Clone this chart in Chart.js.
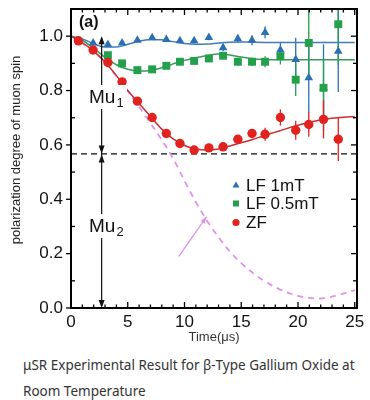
<!DOCTYPE html>
<html>
<head>
<meta charset="utf-8">
<script src="https://cdn.jsdelivr.net/npm/chart.js@4"></script>
<style>
  html, body { margin: 0; padding: 0; background: #fff; }
  #wrap { position: relative; width: 370px; height: 345px; }
  .cap { position: absolute; left: 23px; font-family: "Noto Sans", sans-serif; font-size: 13.5px; color: #333; white-space: nowrap; }
</style>
</head>
<body>
<div id="wrap"><canvas id="chart"></canvas></div>
<div class="cap" style="top:356px">μSR Experimental Result for β-Type Gallium Oxide at</div>
<div class="cap" style="top:382px">Room Temperature</div>
<script>
// measurement times (µs)
const TIMES = [0.65, 1.95, 3.25, 4.5, 5.85, 7.15, 8.4, 9.6, 10.85, 12.15, 13.4, 14.7, 15.95, 17.1, 18.45, 19.8, 20.95, 22.25, 23.55];

const ZF_VALUES = [0.983, 0.949, 0.903, 0.832, 0.761, 0.701, 0.642, 0.605, 0.581, 0.589, 0.593, 0.621, 0.642, 0.639, 0.701, 0.654, 0.675, 0.694, 0.621];
const ZF_ERR    = [0.006, 0.006, 0.006, 0.007, 0.007, 0.008, 0.008, 0.009, 0.01, 0.01, 0.012, 0.014, 0.016, 0.024, 0.03, 0.035, 0.045, 0.07, 0.08];

const LF1_VALUES = [null, 0.975, 0.969, 0.975, 0.985, 0.994, 0.988, 0.983, 0.983, 0.995, 0.957, 0.991, 0.985, 1.014, 0.949, 0.914, 0.847, 0.81, 0.945];
const LF1_ERR    = [0, 0.006, 0.006, 0.006, 0.007, 0.007, 0.008, 0.008, 0.009, 0.01, 0.012, 0.014, 0.018, 0.022, 0.03, 0.08, 0.13, 0.16, 0.15];

const LF05_VALUES = [null, null, 0.930, 0.900, 0.875, 0.878, 0.891, 0.906, 0.909, 0.918, 0.928, 0.906, 0.906, 0.906, 0.926, 0.84, 0.975, 0.81, 1.044];
const LF05_ERR    = [0, 0, 0.006, 0.006, 0.007, 0.007, 0.008, 0.008, 0.009, 0.01, 0.012, 0.015, 0.016, 0.02, 0.03, 0.06, 0.13, 0.11, 0.15];

const FIT_TIMES = [0, 1, 2, 3, 4, 5, 6, 7, 8, 9, 10, 11, 12, 13, 14, 15, 16, 17, 18, 19, 20, 21, 22, 23, 24, 25];
const LF1_FIT  = [1.0, 0.99, 0.972, 0.96, 0.96, 0.97, 0.982, 0.988, 0.987, 0.98, 0.973, 0.97, 0.971, 0.975, 0.978, 0.979, 0.978, 0.977, 0.977, 0.977, 0.977, 0.977, 0.977, 0.977, 0.977, 0.977];
const LF05_FIT = [1.0, 0.985, 0.955, 0.922, 0.895, 0.878, 0.872, 0.874, 0.884, 0.898, 0.911, 0.921, 0.929, 0.934, 0.931, 0.923, 0.917, 0.914, 0.913, 0.913, 0.913, 0.913, 0.913, 0.913, 0.913, 0.913];
const ZF_FIT   = [1.0, 0.975, 0.945, 0.905, 0.855, 0.8, 0.752, 0.705, 0.658, 0.622, 0.598, 0.585, 0.581, 0.585, 0.596, 0.608, 0.62, 0.634, 0.647, 0.66, 0.672, 0.683, 0.692, 0.698, 0.702, 0.704];
const KT_CURVE = [1.0, 0.975, 0.945, 0.903, 0.853, 0.798, 0.74, 0.68, 0.618, 0.55, 0.468, 0.39, 0.32, 0.26, 0.208, 0.165, 0.13, 0.1, 0.077, 0.058, 0.045, 0.037, 0.035, 0.042, 0.053, 0.066];

const X_TICKS = [0, 5, 10, 15, 20, 25];
const Y_TICKS = [0, 0.2, 0.4, 0.6, 0.8, 1.0];

// Mu1 / Mu2 markers
const MU_TIME = 2.7;
const MU_LEVEL = 0.567;
const PINK_ARROW = [{ x: 9.5, y: 0.19 }, { x: 11.95, y: 0.336 }];

const BLUE = '#2b70b4', GREEN = '#22a04b', RED = '#e0231f', PINK = '#e48ff0';
const FONT = '"Liberation Sans", Arial, sans-serif';

const SERIES = [
  { label: 'LF 1mT', values: LF1_VALUES, errors: LF1_ERR, color: BLUE, style: 'triangle' },
  { label: 'LF 0.5mT', values: LF05_VALUES, errors: LF05_ERR, color: GREEN, style: 'rect' },
  { label: 'ZF', values: ZF_VALUES, errors: ZF_ERR, color: RED, style: 'circle' }
];

function pts(times, vals) {
  return times.map((t, i) => ({ x: t, y: vals[i] })).filter(p => p.y != null);
}

function head(ctx, x, y, angle, len, w) {
  ctx.save();
  ctx.translate(x, y);
  ctx.rotate(angle);
  ctx.beginPath();
  ctx.moveTo(0, 0);
  ctx.lineTo(-len, -w / 2);
  ctx.lineTo(-len, w / 2);
  ctx.closePath();
  ctx.fill();
  ctx.restore();
}

function muLabel(ctx, x, yCenter, sub) {
  ctx.fillStyle = '#fff';
  ctx.fillRect(x - 2, yCenter - 11, 40, 24);
  ctx.fillStyle = '#111';
  ctx.textBaseline = 'alphabetic';
  ctx.textAlign = 'left';
  ctx.font = '19px ' + FONT;
  ctx.fillText('Mu', x, yCenter + 7);
  const w = ctx.measureText('Mu').width;
  ctx.font = '13px ' + FONT;
  ctx.fillText(sub, x + w + 1, yCenter + 11);
}

// draws one straight segment as a thin filled box (avoids any stroke state issues)
function bar(ctx, x0, y0, x1, y1, w) {
  if (x0 === x1) ctx.fillRect(x0 - w / 2, Math.min(y0, y1), w, Math.abs(y1 - y0));
  else ctx.fillRect(Math.min(x0, x1), y0 - w / 2, Math.abs(x1 - x0), w);
}

const decor = {
  id: 'decor',
  beforeDatasetsDraw(chart) {
    const { ctx, chartArea: a, scales: { x, y } } = chart;
    ctx.save();
    ctx.beginPath();
    ctx.rect(a.left, a.top, a.right - a.left, a.bottom - a.top);
    ctx.clip();
    // horizontal dashed level
    ctx.strokeStyle = '#111';
    ctx.lineWidth = 1.3;
    ctx.setLineDash([6, 4]);
    const yl = y.getPixelForValue(MU_LEVEL);
    ctx.beginPath();
    ctx.moveTo(a.left, yl);
    ctx.lineTo(a.right, yl);
    ctx.stroke();
    ctx.setLineDash([]);
    // error bars
    SERIES.forEach(s => {
      ctx.strokeStyle = s.color;
      ctx.lineWidth = 1.3;
      TIMES.forEach((t, i) => {
        const v = s.values[i], e = s.errors[i];
        if (v == null || !e) return;
        const px = x.getPixelForValue(t);
        ctx.beginPath();
        ctx.moveTo(px, y.getPixelForValue(v - e));
        ctx.lineTo(px, y.getPixelForValue(v + e));
        ctx.stroke();
      });
    });
    ctx.restore();
  },
  afterDraw(chart) {
    const { ctx, scales: { x, y } } = chart;
    const L = x.getPixelForValue(x.min), R = x.getPixelForValue(x.max);
    const T = y.getPixelForValue(y.max), B = y.getPixelForValue(y.min);
    ctx.save();
    ctx.setLineDash([]);

    // frame and ticks, drawn as filled boxes
    ctx.fillStyle = '#000';
    bar(ctx, L, T, L, B, 2);
    bar(ctx, R, T, R, B, 2);
    bar(ctx, L - 1, T, R + 1, T, 2);
    bar(ctx, L - 1, B, R + 1, B, 2);
    for (let t = 0; t <= 25; t++) {
      const px = x.getPixelForValue(t);
      const len = t % 5 === 0 ? 6 : 3.5;
      bar(ctx, px, B, px, B - len, 1.3);
      bar(ctx, px, T, px, T + len, 1.3);
    }
    for (let k = 0; k <= 10; k++) {
      const py = y.getPixelForValue(k / 10);
      const major = k % 2 === 0;
      if (major) bar(ctx, L - 5, py, L, py, 1.3);
      else bar(ctx, L, py, L + 4, py, 1.3);
      bar(ctx, R - (major ? 6 : 4), py, R, py, 1.3);
    }

    // Mu arrows
    const mx = x.getPixelForValue(MU_TIME);
    const yTop = y.getPixelForValue(1.0), yMid = y.getPixelForValue(MU_LEVEL), yBot = y.getPixelForValue(0);
    ctx.fillStyle = '#111';
    bar(ctx, mx, yTop + 2, mx, yBot - 2, 1.2);
    head(ctx, mx, yTop, -Math.PI / 2, 8, 6);
    head(ctx, mx, yMid - 0.5, Math.PI / 2, 8, 6);
    head(ctx, mx, yMid + 0.5, -Math.PI / 2, 8, 6);
    head(ctx, mx, yBot, Math.PI / 2, 8, 6);
    muLabel(ctx, 89, y.getPixelForValue(0.78), '1');
    muLabel(ctx, 89, y.getPixelForValue(0.305), '2');

    // pink arrow
    const p0 = { x: x.getPixelForValue(PINK_ARROW[0].x), y: y.getPixelForValue(PINK_ARROW[0].y) };
    const p1 = { x: x.getPixelForValue(PINK_ARROW[1].x), y: y.getPixelForValue(PINK_ARROW[1].y) };
    ctx.strokeStyle = '#dd93ec';
    ctx.fillStyle = '#dd93ec';
    ctx.lineWidth = 1.3;
    ctx.beginPath();
    ctx.moveTo(p0.x, p0.y);
    ctx.lineTo(p1.x, p1.y);
    ctx.stroke();
    head(ctx, p1.x, p1.y, Math.atan2(p1.y - p0.y, p1.x - p0.x), 7, 5);

    // panel label
    ctx.fillStyle = '#111';
    ctx.font = 'bold 16px ' + FONT;
    ctx.textAlign = 'left';
    ctx.textBaseline = 'alphabetic';
    ctx.fillText('(a)', 79, 27);

    // y axis title
    ctx.save();
    ctx.translate(16, 150);
    ctx.rotate(-Math.PI / 2);
    ctx.fillStyle = '#222';
    ctx.font = '13px ' + FONT;
    ctx.textAlign = 'center';
    ctx.textBaseline = 'middle';
    ctx.fillText('polarization degree of muon spin', 0, 0);
    ctx.restore();

    // legend inside plot
    const lx = 236, ly = [185, 203.5, 222.5];
    SERIES.forEach((s, i) => {
      ctx.fillStyle = s.color;
      const cy = ly[i];
      if (s.style === 'triangle') {
        ctx.beginPath();
        ctx.moveTo(lx, cy - 3.5); ctx.lineTo(lx + 3.5, cy + 2.5); ctx.lineTo(lx - 3.5, cy + 2.5);
        ctx.closePath(); ctx.fill();
      } else if (s.style === 'rect') {
        ctx.fillRect(lx - 3, cy - 3, 6, 6);
      } else {
        ctx.beginPath(); ctx.arc(lx, cy, 3.6, 0, Math.PI * 2); ctx.fill();
      }
      ctx.fillStyle = '#111';
      ctx.font = '17px ' + FONT;
      ctx.textAlign = 'left';
      ctx.textBaseline = 'middle';
      ctx.fillText(s.label, 246, cy + 1);
    });
    ctx.restore();
  }
};

const fitStyle = { pointRadius: 0, borderWidth: 1.5, cubicInterpolationMode: 'monotone', fill: false };

new Chart(document.getElementById('chart'), {
  type: 'line',
  data: {
    datasets: [
      { label: 'KT', data: pts(FIT_TIMES, KT_CURVE), borderColor: PINK, borderDash: [6, 5], borderWidth: 1.8, pointRadius: 0, cubicInterpolationMode: 'monotone', order: 8 },
      { label: 'LF 1mT fit', data: pts(FIT_TIMES, LF1_FIT), borderColor: '#3f7cbc', order: 6, ...fitStyle },
      { label: 'LF 0.5mT fit', data: pts(FIT_TIMES, LF05_FIT), borderColor: '#3d985c', order: 5, ...fitStyle },
      { label: 'ZF fit', data: pts(FIT_TIMES, ZF_FIT), borderColor: '#cf2d2d', order: 4, ...fitStyle },
      { label: 'LF 1mT', data: pts(TIMES, LF1_VALUES), showLine: false, pointStyle: 'triangle', pointRadius: 5, backgroundColor: BLUE, borderWidth: 0, order: 3 },
      { label: 'LF 0.5mT', data: pts(TIMES, LF05_VALUES), showLine: false, pointStyle: 'rect', pointRadius: 5.6, backgroundColor: GREEN, borderWidth: 0, order: 2 },
      { label: 'ZF', data: pts(TIMES, ZF_VALUES), showLine: false, pointStyle: 'circle', pointRadius: 4.7, backgroundColor: RED, borderWidth: 0, order: 1 }
    ]
  },
  options: {
    responsive: true,
    maintainAspectRatio: false,
    animation: false,
    layout: { padding: { left: 0, top: 9, right: 13, bottom: 0 } },
    plugins: {
      legend: { display: false },
      tooltip: { enabled: false }
    },
    scales: {
      x: {
        type: 'linear',
        min: 0,
        max: 25.2,
        afterBuildTicks: s => { s.ticks = X_TICKS.map(v => ({ value: v })); },
        afterFit: s => { s.height = 37; s.paddingLeft = 0; s.paddingRight = 0; },
        grid: { display: false, drawTicks: false },
        border: { display: false },
        ticks: { color: '#111', padding: 4, maxRotation: 0, font: { family: FONT, size: 17 } },
        title: { display: true, text: 'Time(μs)', color: '#333', padding: 0, font: { family: FONT, size: 13 } }
      },
      y: {
        min: 0,
        max: 1.1,
        afterBuildTicks: s => { s.ticks = Y_TICKS.map(v => ({ value: v })); },
        afterFit: s => { s.width = 71; s.paddingTop = 0; s.paddingBottom = 0; },
        grid: { display: false, drawTicks: false },
        border: { display: false },
        ticks: { color: '#111', padding: 8, callback: v => v.toFixed(1), font: { family: FONT, size: 17 } }
      }
    }
  },
  plugins: [decor]
});
</script>
</body>
</html>
